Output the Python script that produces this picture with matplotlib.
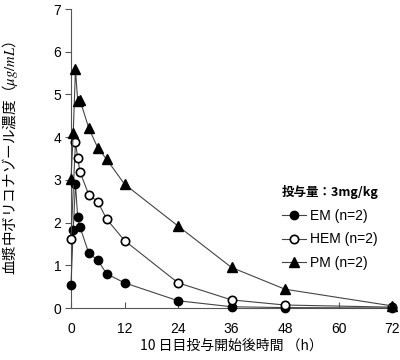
import matplotlib
matplotlib.use("Agg")
import matplotlib.pyplot as plt

plt.rcParams['font.family'] = ['Liberation Sans', 'Noto Sans CJK JP', 'DejaVu Sans']
plt.rcParams['mathtext.fontset'] = 'stix'

em_t = [0, 0.5, 1, 1.5, 2, 4, 6, 8, 12, 24, 36, 48, 72]
em_y = [0.55, 1.82, 2.91, 2.12, 1.90, 1.28, 1.12, 0.80, 0.59, 0.17, 0.03, 0.01, 0.0]
hem_t = [0, 1, 1.5, 2, 4, 6, 8, 12, 24, 36, 48, 72]
hem_y = [1.62, 3.88, 3.52, 3.19, 2.65, 2.49, 2.08, 1.58, 0.59, 0.19, 0.07, 0.02]
pm_t = [0, 0.5, 1, 1.5, 2, 4, 6, 8, 12, 24, 36, 48, 72]
pm_y = [3.02, 4.09, 5.59, 4.85, 4.87, 4.21, 3.75, 3.48, 2.90, 1.92, 0.95, 0.44, 0.05]

xticks = [0, 12, 24, 36, 48, 60, 72]
yticks = [0, 1, 2, 3, 4, 5, 6, 7]

fig = plt.figure(figsize=(4.0, 3.6), dpi=100)
ax = fig.add_axes([0.1775, 0.1444, 0.8025, 0.8306])

lc = '#444444'
ax.plot(em_t, em_y, color=lc, lw=0.8, marker='o', ms=6, mfc='black', mec='black', label='EM (n=2)', clip_on=False, zorder=3)
ax.plot(hem_t, hem_y, color=lc, lw=0.8, marker='o', ms=6, mfc='white', mec='black', mew=1.2, label='HEM (n=2)', clip_on=False, zorder=3)
ax.plot(pm_t, pm_y, color=lc, lw=0.8, marker='^', ms=7, mfc='black', mec='black', label='PM (n=2)', clip_on=False, zorder=3)

ax.set_xlim(0, 72)
ax.set_ylim(0, 7)
ax.set_xticks(xticks)
ax.set_yticks(yticks)
ax.spines['top'].set_visible(False)
ax.spines['right'].set_visible(False)
ax.spines['left'].set_color('#555555')
ax.spines['bottom'].set_color('#555555')
ax.tick_params(axis='x', direction='in', length=4, color='#555555', labelsize=10, pad=10)
ax.tick_params(axis='y', direction='out', length=4, color='#555555', labelsize=10, pad=3)

ax.set_xlabel('10 日目投与開始後時間 （h）', fontsize=10, labelpad=2,
              family=['Noto Sans CJK JP', 'DejaVu Sans'])
ax.set_ylabel('血漿中ボリコナゾール濃度（$\\mathit{\\mu g/mL}$）', fontsize=10.5,
              family=['Noto Sans CJK JP', 'DejaVu Sans'])
ax.yaxis.set_label_coords(-0.16, 0.5)

leg = ax.legend(loc='upper left', bbox_to_anchor=(0.64, 0.43), frameon=False,
                title='投与量：3mg/kg', fontsize=10, handlelength=1.7,
                handletextpad=0.3, labelspacing=0.7, borderaxespad=0)
leg.get_title().set_fontfamily(['Noto Sans CJK JP', 'DejaVu Sans'])
leg.get_title().set_fontsize(9)
leg.get_title().set_fontweight('bold')
leg._legend_box.align = 'left'

fig.savefig('out.png', dpi=100)
